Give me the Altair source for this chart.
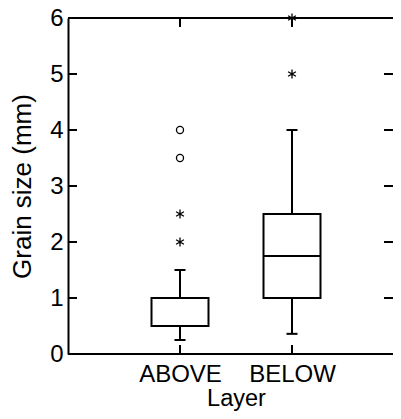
import altair as alt
import pandas as pd

layers = ["ABOVE", "BELOW"]
q1 = [0.5, 1.0]
median = [1.0, 1.75]
q3 = [1.0, 2.5]
whisk_lo = [0.25, 0.36]
whisk_hi = [1.5, 4.0]

star_layer = ["ABOVE", "ABOVE", "BELOW", "BELOW"]
star_val = [2.0, 2.5, 5.0, 6.0]
circ_layer = ["ABOVE", "ABOVE"]
circ_val = [3.5, 4.0]

y_ticks = [0, 1, 2, 3, 4, 5, 6]

W, H = 325, 336
FONT = "Liberation Sans"
FS = 24

box = pd.DataFrame({"Layer": layers, "q1": q1, "med": median, "q3": q3,
                    "lo": whisk_lo, "hi": whisk_hi})
stars = pd.DataFrame({"Layer": star_layer, "v": star_val})
circs = pd.DataFrame({"Layer": circ_layer, "v": circ_val})
yt = pd.DataFrame({"t": y_ticks})

xscale = alt.Scale(type="point", domain=layers, range=[112, 224], padding=0)
yscale = alt.Scale(domain=[0, 6], nice=False, zero=False)

X = alt.X("Layer:N", scale=xscale,
          axis=alt.Axis(title="Layer", ticks=False, labelPadding=20, titlePadding=0,
                        domain=False, labelAngle=0, labelAlign="center",
                        labelColor="black", labelFlush=False,
                        titleColor="black", labelFont=FONT, titleFont=FONT,
                        labelFontSize=FS, titleFontSize=23.5,
                        titleFontWeight="normal", grid=False))
Y = alt.Y("q1:Q", scale=yscale,
          axis=alt.Axis(title="Grain size (mm)", values=y_ticks, ticks=False,
                        labelPadding=5, titlePadding=14, domain=True,
                        domainColor="black", domainWidth=2, labelColor="black",
                        titleColor="black", labelFont=FONT, titleFont=FONT,
                        labelFontSize=FS, titleFontSize=26,
                        titleFontWeight="normal", grid=False, format="d"))

base = alt.Chart(box)

boxes = base.mark_bar(size=57, fill="white", stroke="black", strokeWidth=2).encode(
    x=X, y=Y, y2="q3:Q")
whisk_up = base.mark_rule(color="black", strokeWidth=2).encode(
    x="Layer:N", y="q3:Q", y2="hi:Q")
whisk_dn = base.mark_rule(color="black", strokeWidth=2).encode(
    x="Layer:N", y="lo:Q", y2="q1:Q")
cap_hi = base.mark_tick(size=11, thickness=2, color="black", opacity=1).encode(
    x="Layer:N", y="hi:Q")
cap_lo = base.mark_tick(size=11, thickness=2, color="black", opacity=1).encode(
    x="Layer:N", y="lo:Q")
med = base.mark_tick(size=57, thickness=2, color="black", opacity=1).encode(
    x="Layer:N", y="med:Q")

asterisk = "M0,-1L0,1M-0.87,-0.5L0.87,0.5M-0.87,0.5L0.87,-0.5"
star_pts = alt.Chart(stars).mark_point(shape=asterisk, size=81, stroke="black",
                                       strokeWidth=1.3, filled=False, opacity=1).encode(
    x="Layer:N", y="v:Q")
circ_pts = alt.Chart(circs).mark_point(shape="circle", size=50, stroke="black",
                                       strokeWidth=1.3, filled=False, opacity=1).encode(
    x="Layer:N", y="v:Q")

# inward ticks and frame lines
left_t = alt.Chart(yt).mark_rule(color="black", strokeWidth=2).encode(
    y="t:Q", x=alt.value(0), x2=alt.value(9))
right_t = alt.Chart(yt).mark_rule(color="black", strokeWidth=2).encode(
    y="t:Q", x=alt.value(W - 9), x2=alt.value(W))
top_t = base.mark_rule(color="black", strokeWidth=2).encode(
    x="Layer:N", y=alt.value(0), y2=alt.value(9))
bot_t = base.mark_rule(color="black", strokeWidth=2).encode(
    x="Layer:N", y=alt.value(H - 9), y2=alt.value(H))
top_line = base.mark_rule(color="black", strokeWidth=2).encode(
    y=alt.value(0), x=alt.value(0), x2=alt.value(W))
bot_line = base.mark_rule(color="black", strokeWidth=2).encode(
    y=alt.value(H), x=alt.value(0), x2=alt.value(W))

chart = alt.layer(
    whisk_up, whisk_dn, boxes, cap_hi, cap_lo, med, star_pts, circ_pts,
    left_t, right_t, top_t, bot_t, top_line, bot_line
).properties(
    width=W, height=H,
    autosize=alt.AutoSizeParams(type="none"),
    padding={"left": 60, "top": 10, "right": 0, "bottom": 57},
).configure_view(stroke=None).configure(background="white")

chart.save("out.html", embed_options={"renderer": "svg", "actions": False})
